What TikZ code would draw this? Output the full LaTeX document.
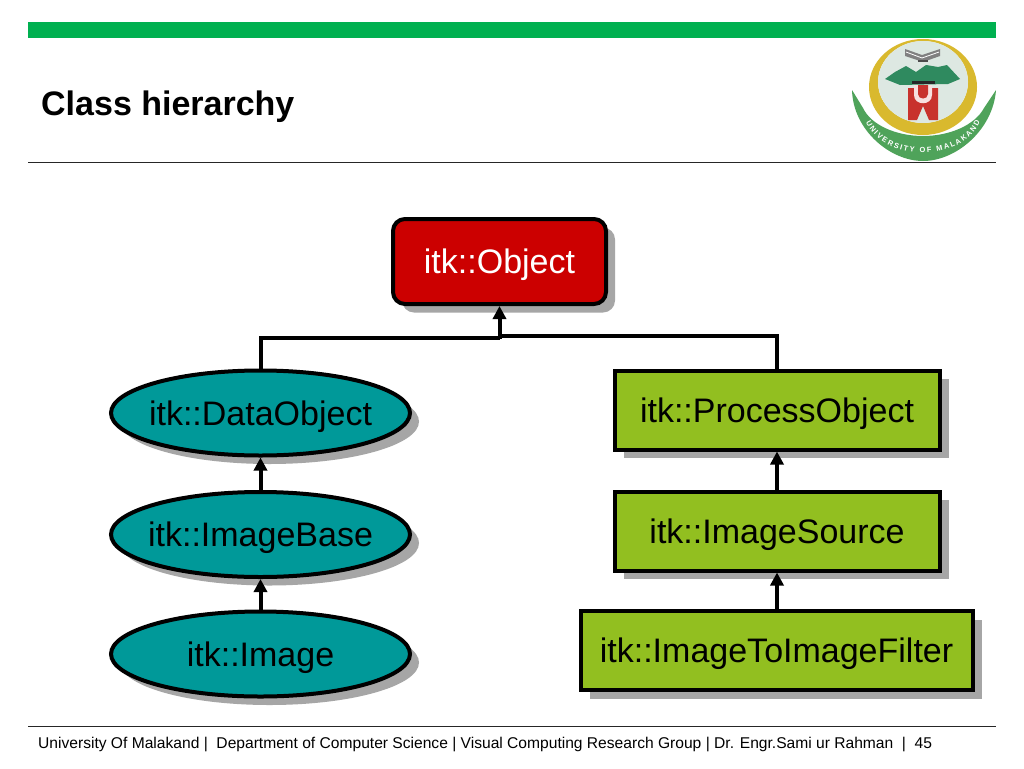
\documentclass[tikz,border=0pt]{standalone}
\usepackage{fontspec}
\setmainfont{Liberation Sans}
\usetikzlibrary{shapes.geometric,shadows,arrows.meta,decorations.text}
\definecolor{barGreen}{HTML}{00B050}
\definecolor{objRed}{HTML}{CC0000}
\definecolor{ellTeal}{HTML}{009999}
\definecolor{boxGreen}{HTML}{92BF20}
\definecolor{shadowGray}{HTML}{A6A6A6}
\definecolor{ribbonGreen}{HTML}{4FA35A}
\definecolor{crescent}{HTML}{D9B92E}
\definecolor{discBlue}{HTML}{DDE8E2}
\definecolor{mountGreen}{HTML}{2F8A5F}
\definecolor{sealRed}{HTML}{C8322D}
\newcommand{\lbl}[1]{\makebox[0pt][c]{\smash{\raisebox{-12pt}{#1}}}}
\tikzset{
  x=1pt,y=-1pt,
  label text/.style={font=\fontsize{34}{40}\selectfont,text=black},
  base shape/.style={draw=black,line width=4pt,inner sep=0pt,outer sep=0pt,label text,
    drop shadow={shadow xshift=9pt,shadow yshift=-8.5pt,fill=shadowGray,opacity=1}},
  classEllipse/.style={base shape,ellipse,fill=ellTeal,minimum width=299pt,minimum height=85pt},
  classBox/.style={base shape,rectangle,fill=boxGreen,minimum height=79pt},
  rootBox/.style={base shape,rectangle,rounded corners=12pt,fill=objRed,text=white,minimum width=213pt,minimum height=85pt},
  link/.style={draw=black,line width=4pt},
  inherit/.style={link,-{Triangle[length=13pt,width=13pt]},shorten >=2pt},
  rule/.style={draw=black!85,line width=0.8pt}
}
\begin{document}
\begin{tikzpicture}
\useasboundingbox (0,0) rectangle (1024,768);
\fill[white] (0,0) rectangle (1024,768);

% header and footer
\fill[barGreen] (28,22) rectangle (996,38);
\node[anchor=west,inner sep=0pt,font=\fontsize{34}{40}\selectfont\bfseries] (title) at (41,107) {Class hierarchy};
\draw[rule] (28,162) -- (996,162);
\draw[rule] (28,726) -- (996,726);
\node[anchor=west,inner sep=0pt,font=\fontsize{15.6}{18}\selectfont] (foot) at (38,744) {University Of Malakand |~ Department of Computer Science | Visual Computing Research Group | Dr. Engr.Sami ur Rahman ~| ~45};

% logo
\fill[ribbonGreen] (852,90) .. controls (853,130) and (890,161) .. (923,161)
  .. controls (956,161) and (993,130) .. (996,90)
  -- (984,108) .. controls (975,125) and (950,136) .. (923,136)
  .. controls (896,136) and (871,125) .. (863,108) -- cycle;
\path[decorate,decoration={text along path,text align={fit to path},
   text={|\fontsize{7.4}{9}\selectfont\bfseries\color{white}|UNIVERSITY OF MALAKAND}}]
  (866,122) .. controls (884,163) and (962,163) .. (980,122);
\fill[crescent,even odd rule] (923,87) ellipse [x radius=54,y radius=48]
  (923,82) ellipse [x radius=45,y radius=41];
\fill[discBlue] (923,82) ellipse [x radius=45,y radius=41];
\fill[mountGreen] (885,79) -- (895,72) -- (906,66) -- (916,72) -- (926,65) -- (938,67) -- (947,65) -- (960,79)
  -- (948,84) -- (900,85) -- cycle;
\fill[black!50] (905,49) -- (922,55) -- (940,49) -- (940,56) -- (923,62) -- (905,56) -- cycle;
\draw[white,line width=0.8pt] (906,52) -- (922,58) -- (939,52);
\fill[black!70] (918,60) rectangle (928,62);
\fill[sealRed] (908,88) -- (938,88) -- (938,120) -- (929,120) -- (923,106) -- (917,120) -- (908,120) -- cycle;
\fill[white!85!sealRed] (914,85) -- (932,85) -- (932,95) .. controls (932,106) and (914,106) .. (914,95) -- cycle;
\fill[sealRed] (918,85) -- (928,85) -- (928,94) .. controls (928,100) and (918,100) .. (918,94) -- cycle;
\fill[black!85] (912,81) rectangle (935,84);

% class nodes
\node[rootBox] (object) at (499.5,261.5) {\lbl{itk::Object}};
\node[classEllipse] (data) at (260.5,413) {\lbl{itk::DataObject}};
\node[classEllipse] (base) at (260.5,534.5) {\lbl{itk::ImageBase}};
\node[classEllipse] (image) at (260.5,654) {\lbl{itk::Image}};
\node[classBox,minimum width=325pt] (process) at (777,410) {\lbl{itk::ProcessObject}};
\node[classBox,minimum width=325pt] (source) at (777,531) {\lbl{itk::ImageSource}};
\node[classBox,minimum width=392pt] (filter) at (776.5,650.5) {\lbl{itk::ImageToImageFilter}};

% connectors
\coordinate (join) at (499.5,337);
\draw[link] (data.north) |- ([yshift=-1pt]join);
\draw[link] ([yshift=1pt]join) -| (process.north);
\draw[inherit] ([yshift=-2pt]join) -- (object.south);
\draw[inherit] (base.north) -- (data.south);
\draw[inherit] (image.north) -- (base.south);
\draw[inherit] (source.north) -- (process.south);
\draw[inherit] (filter.north -| source.north) -- (source.south);
\end{tikzpicture}
\end{document}
